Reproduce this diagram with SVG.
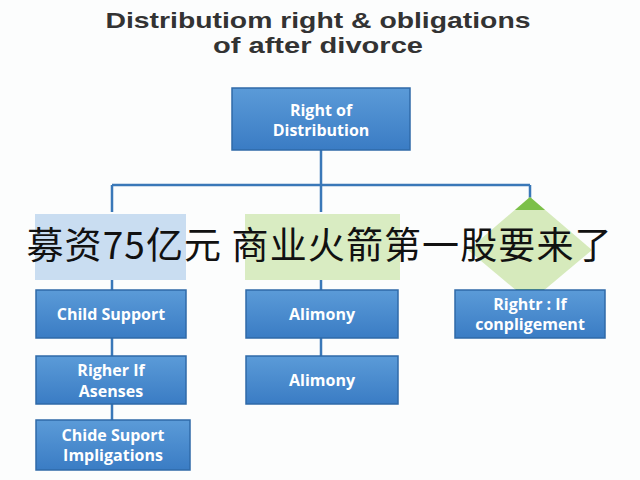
<svg xmlns="http://www.w3.org/2000/svg" width="640" height="480" viewBox="0 0 640 480">
<defs>
<linearGradient id="bg" x1="0" y1="0" x2="0" y2="1"><stop offset="0" stop-color="#5b9bd8"/><stop offset="1" stop-color="#3a7cc4"/></linearGradient>
</defs>
<style>
.b{fill:url(#bg);stroke:#2f6aa8;stroke-width:1.5}
.t{font-family:"Open Sans","Liberation Sans",sans-serif;font-weight:bold;fill:#fff;font-size:16px;text-anchor:middle}
.ttl{font-family:"Liberation Sans",sans-serif;font-weight:bold;fill:#333;font-size:22px;text-anchor:middle}
.c{stroke:#3a78b8;stroke-width:2.5;fill:none}
</style>
<rect width="640" height="480" fill="#fcfdfd"/>
<text class="ttl" x="318" y="28" textLength="425" lengthAdjust="spacingAndGlyphs">Distributiom right &amp; obligations</text>
<text class="ttl" x="318" y="53" textLength="210" lengthAdjust="spacingAndGlyphs">of after divorce</text>
<g id="connectors">
<path class="c" d="M321 150V185M112 185H530M112 185V212M321 185V212M530 185V200M112 280V290M321 280V290M112 338V356M321 338V356M112 404V420"/>
</g>
<g id="root"><rect class="b" x="232" y="88" width="178" height="62"/><text class="t" x="321" y="116">Right of</text><text class="t" x="321" y="136">Distribution</text></g>
<g id="n1"><rect x="35" y="214" width="151" height="66" fill="#c9ddf1"/></g>
<g id="n2"><rect x="245" y="214" width="155" height="66" fill="#d9ecc2"/></g>
<g id="n3"><polygon points="530,197 592,250 530,302 468,250" fill="#d6eabc"/><polygon points="530,197 545,210 515,210" fill="#7cc04a"/><polygon points="530,302 545,289 515,289" fill="#7cc04a"/></g>
<g id="n4"><rect class="b" x="36" y="290" width="150" height="48"/><text class="t" x="111" y="320">Child Support</text></g>
<g id="n5"><rect class="b" x="246" y="290" width="152" height="48"/><text class="t" x="322" y="320">Alimony</text></g>
<g id="n6"><rect class="b" x="455" y="290" width="150" height="48"/><text class="t" x="530" y="310">Rightr : If</text><text class="t" x="530" y="330">conpligement</text></g>
<g id="n7"><rect class="b" x="36" y="356" width="150" height="48"/><text class="t" x="111" y="376">Righer If</text><text class="t" x="111" y="397">Asenses</text></g>
<g id="n8"><rect class="b" x="246" y="356" width="152" height="48"/><text class="t" x="322" y="386">Alimony</text></g>
<g id="n9"><rect class="b" x="36" y="420" width="154" height="50"/><text class="t" x="113" y="441">Chide Suport</text><text class="t" x="113" y="461">Impligations</text></g>
<text x="319" y="259" font-family="'Noto Sans CJK SC',sans-serif" font-size="37" fill="#111" text-anchor="middle" textLength="585">募资75亿元 商业火箭第一股要来了</text>
</svg>
